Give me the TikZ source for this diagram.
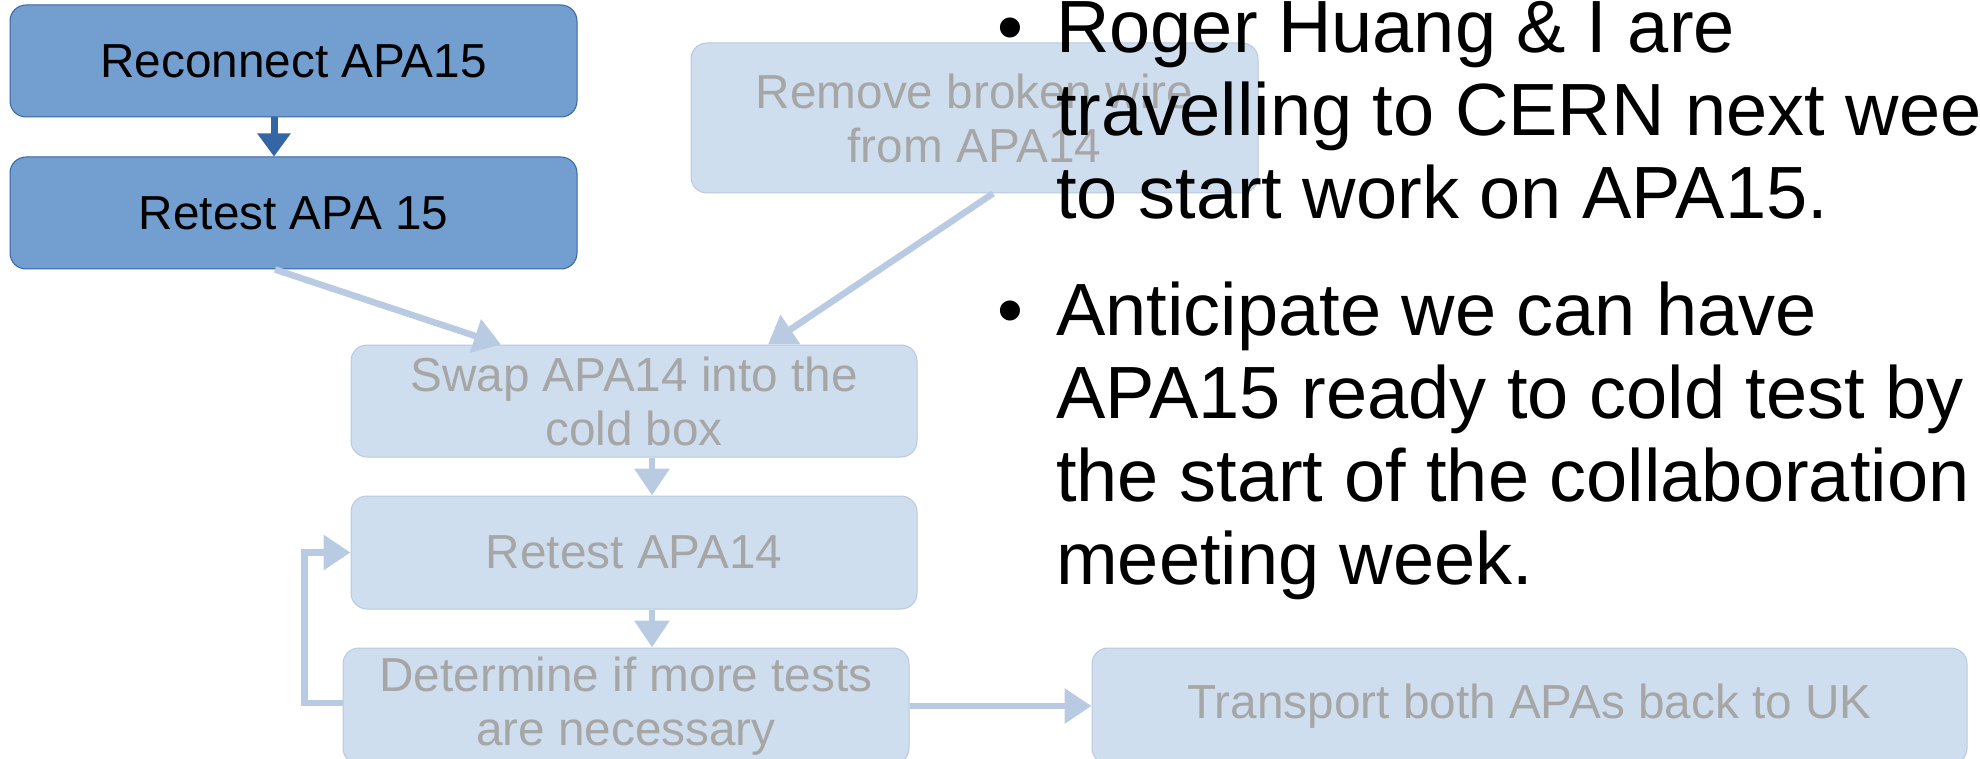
\documentclass[tikz,border=0pt]{standalone}
\usepackage{fontspec}
\setmainfont{Liberation Sans}
\usetikzlibrary{arrows.meta}
\definecolor{darkfill}{HTML}{729FCF}
\definecolor{darkedge}{HTML}{3465A4}
\definecolor{lightfill}{HTML}{CFDEEE}
\definecolor{lightedge}{HTML}{B7C9E2}
\definecolor{lighttext}{HTML}{A6A6A6}
\definecolor{lightline}{HTML}{B9CBE2}

\begin{document}
\begin{tikzpicture}[x=1pt,y=-1pt,
  box/.style={rectangle, rounded corners=16pt, inner sep=0pt, align=center,
    font=\fontsize{47.7}{54}\selectfont},
  done/.style={box, fill=darkfill, draw=darkedge, line width=1pt, text=black},
  todo/.style={box, fill=lightfill, draw=lightedge, line width=1pt, text=lighttext},
  darrow/.style={draw=darkedge, line width=7pt, -{Triangle[length=23pt,width=32pt]}},
  larrow/.style={draw=lightline, line width=6.5pt, -{Triangle[length=27pt,width=34pt]}},
  bullettext/.style={anchor=base west, inner sep=0pt, font=\fontsize{74}{83}\selectfont}]

\useasboundingbox (0,0) rectangle (1980,759);
\clip (0,0) rectangle (1980,759);

% finished steps
\node[done, minimum width=567pt, minimum height=112pt] (rec) at (293.5,61) {Reconnect APA15};
\node[done, minimum width=567pt, minimum height=112pt] (ret15) at (293.5,213) {Retest APA 15};

% remaining steps
\node[todo, minimum width=567pt, minimum height=150pt] (rem) at (974.5,118) {Remove broken wire\\from APA14};
\node[todo, minimum width=566pt, minimum height=112pt] (swap) at (634,401) {Swap APA14 into the\\cold box};
\node[todo, minimum width=566pt, minimum height=113pt] (ret14) at (634,552.5) {Retest APA14};
\node[todo, minimum width=566pt, minimum height=116pt] (det) at (626,706) {Determine if more tests\\are necessary};
\node[todo, minimum width=875pt, minimum height=116pt] (trans) at (1529.5,706) {Transport both APAs back to UK};

% connectors
\draw[darrow] ([xshift=-19.5pt]rec.south) -- ([xshift=-19.5pt]ret15.north);
\draw[larrow] ([xshift=-18.5pt]ret15.south) -- ([xshift=-133pt]swap.north);
\draw[larrow] ([xshift=18.5pt]rem.south) -- ([xshift=134pt]swap.north);
\draw[larrow] ([xshift=18pt]swap.south) -- ([xshift=18pt]ret14.north);
\draw[larrow] ([xshift=18pt]ret14.south) -- ([xshift=26pt]det.north);
\draw[larrow] ([yshift=3pt]det.west) -- ++(-38,0) |- (ret14.west);
\draw[larrow] (det.east) -- (trans.west);

% bullet text
\node[bullettext] (b1) at (997,53) {\textbullet};
\node[bullettext] (l1) at (1056,53) {Roger Huang \& I are};
\node[bullettext] (l2) at (1056,136) {travelling to CERN next week};
\node[bullettext] (l3) at (1056,219) {to start work on APA15.};
\node[bullettext] (b2) at (997,335) {\textbullet};
\node[bullettext] (l4) at (1056,335) {Anticipate we can have};
\node[bullettext] (l5) at (1056,418) {APA15 ready to cold test by};
\node[bullettext] (l6) at (1056,501) {the start of the collaboration};
\node[bullettext] (l7) at (1056,584) {meeting week.};
\end{tikzpicture}
\end{document}
